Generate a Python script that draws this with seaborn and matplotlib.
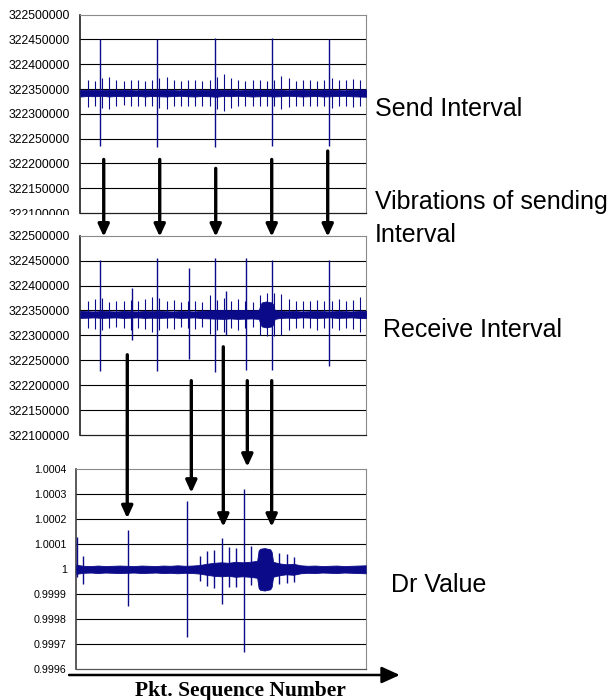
import numpy as np
import pandas as pd
import seaborn as sns
import matplotlib.pyplot as plt
from matplotlib.patches import ConnectionPatch
from matplotlib.transforms import Bbox

# x = packet sequence number, each panel spans 0..2000
# interval values below are in thousands of units (x1000 when drawn)

# ---- Send Interval panel ----
send_ticks = [322100, 322150, 322200, 322250, 322300, 322350, 322400, 322450, 322500]
send_center = 322342
send_band_x = [0, 50, 100, 150, 200, 250, 300, 350, 400, 450, 500, 550, 600, 650,
               700, 750, 800, 850, 900, 950, 1000, 1050, 1100, 1150, 1200, 1250,
               1300, 1350, 1400, 1450, 1500, 1550, 1600, 1650, 1700, 1750, 1800,
               1850, 1900, 1950, 2000]
send_band_half = [7, 6, 6.5, 5.5, 7, 6, 6.5, 6, 5.5, 7, 6, 6.5, 7, 6, 5.5, 6.5, 7,
                  6, 6.5, 7.5, 6, 6.5, 5.5, 6, 7, 6.5, 6, 7, 6.5, 5.5, 6, 7, 6.5,
                  6, 7, 6.5, 6, 5.5, 6.5, 7, 7.5]
small_spike_x = [52, 102, 152, 203, 253, 303, 353, 403, 454, 504, 554, 604, 654,
                 705, 755, 805, 855, 905, 956, 1006, 1056, 1106, 1156, 1207, 1257,
                 1307, 1357, 1407, 1458, 1508, 1558, 1608, 1658, 1709, 1759, 1809,
                 1859, 1909, 1960]
send_small_top = [322368, 322366, 322372, 322374, 322368, 322367, 322369, 322368, 322367,
                  322368, 322372, 322375, 322368, 322367, 322369, 322368, 322367, 322368,
                  322374, 322381, 322372, 322368, 322367, 322369, 322368, 322367, 322368,
                  322376, 322372, 322367, 322368, 322369, 322367, 322368, 322372, 322369,
                  322368, 322370, 322368]
send_small_bot = [322314, 322316, 322312, 322310, 322316, 322317, 322315, 322316, 322316,
                  322315, 322311, 322309, 322316, 322316, 322315, 322316, 322316, 322315,
                  322310, 322305, 322312, 322316, 322316, 322315, 322316, 322316, 322315,
                  322309, 322313, 322316, 322315, 322316, 322316, 322315, 322312, 322315,
                  322316, 322314, 322316]
big_spike_x = [140, 537, 941, 1340, 1739]
send_big_top = [322450, 322450, 322452, 322452, 322450]
send_big_bot = [322235, 322234, 322233, 322235, 322236]

# ---- Receive Interval panel ----
recv_center = 322342
recv_band_x = [0, 50, 100, 150, 200, 250, 300, 350, 400, 450, 500, 550, 600, 650,
               700, 750, 800, 850, 900, 950, 1000, 1050, 1100, 1150, 1200, 1250,
               1260, 1270, 1300, 1340, 1350, 1360,
               1400, 1450, 1500, 1550, 1600, 1650, 1700, 1750, 1800, 1850, 1900, 1950, 2000]
recv_band_half = [7, 6.5, 6, 7, 6.5, 6, 7, 6.5, 6, 7, 6.5, 7, 6.5, 6, 7, 6.5, 6,
                  7.5, 8, 8.5, 9, 8, 9, 8.5, 8, 9,
                  18, 24, 26, 24, 20, 9,
                  7, 6.5, 7, 6, 6.5, 7, 6.5, 6, 7, 6.5, 6, 7, 7.5]
recv_small_top = [322368, 322372, 322374, 322366, 322368, 322368, 322371, 322368, 322372,
                  322377, 322374, 322368, 322371, 322367, 322369, 322368, 322366, 322380,
                  322370, 322374, 322369, 322372, 322368, 322367, 322380, 322386, 322386,
                  322382, 322372, 322368, 322369, 322368, 322371, 322368, 322368, 322372,
                  322369, 322370, 322377]
recv_small_bot = [322314, 322312, 322310, 322314, 322316, 322315, 322310, 322315, 322313,
                  322306, 322310, 322315, 322312, 322316, 322315, 322313, 322316, 322303,
                  322311, 322306, 322314, 322310, 322315, 322316, 322300, 322298, 322299,
                  322301, 322310, 322315, 322314, 322315, 322310, 322315, 322314, 322311,
                  322314, 322313, 322307]
recv_big_x = [140, 537, 941, 1340, 1739, 362, 763, 1018, 1162]
recv_big_top = [322452, 322455, 322455, 322452, 322452, 322395, 322435, 322390, 322455]
recv_big_bot = [322228, 322228, 322226, 322230, 322238, 322290, 322253, 322300, 322230]

# ---- Dr Value panel ----
dr_ticks = [0.9996, 0.9997, 0.9998, 0.9999, 1.0, 1.0001, 1.0002, 1.0003, 1.0004]
dr_tick_labels = ["0.9996", "0.9997", "0.9998", "0.9999", "1",
                  "1.0001", "1.0002", "1.0003", "1.0004"]
dr_center = 1.0
dr_band_x = recv_band_x
# half width of the Dr band, in units of 1e-6
dr_band_half_u = [18, 14, 13, 15, 13, 14, 15, 14, 13, 15, 14, 13, 15, 14, 16, 14, 15,
                  17, 22, 26, 28, 26, 30, 28, 30, 34,
                  75, 82, 85, 80, 70, 30,
                  24, 20, 22, 16, 14, 15, 13, 14, 15, 13, 14, 15, 16]
dr_spike_x = [4, 48, 355, 763, 1009, 1161, 855, 906, 954, 1053, 1104, 1205, 1403, 1456, 1504]
dr_spike_top = [1.00013, 1.000055, 1.000157, 1.000273, 1.000126, 1.00032, 1.000052,
                1.000073, 1.000077, 1.000088, 1.000085, 1.000093, 1.000067, 1.00006, 1.00005]
dr_spike_bot = [0.99997, 0.99994, 0.999854, 0.99973, 0.99986, 0.99967, 0.999954,
                0.999933, 0.999924, 0.99993, 0.999928, 0.999936, 0.999941, 0.999944, 0.99995]

# ---- arrows between panels ----
arrow1_x = [164, 556, 948, 1340, 1732]
arrow1_from = [322208, 322208, 322190, 322208, 322225]
arrow1_to = 322498
arrow2_x_recv = [329, 777, 1001, 1169, 1340]
arrow2_x_dr = [352, 795, 1016, 1182, 1350]
arrow2_from = [322261, 322209, 322277, 322209, 322209]
arrow2_to = [1.000204, 1.000306, 1.00017, 1.00041, 1.00017]

BLUE = "#0b0b8a"
W, H = 613, 700

sns.set_theme(style="white")
plt.rcParams["font.family"] = ["Liberation Sans", "DejaVu Sans"]
plt.rcParams["text.color"] = "black"

fig = plt.figure(figsize=(W / 100, H / 100), dpi=100)


def px_axes(left, top, right, bottom):
    return fig.add_axes([left / W, 1 - bottom / H, (right - left) / W, (bottom - top) / H])


def style_axes(ax, ticks, labels, size, pad):
    ax.set_xlim(0, 2000)
    ax.set_ylim(ticks[0], ticks[-1])
    ax.set_xticks([])
    ax.set_yticks(ticks)
    ax.set_yticklabels(labels)
    ax.tick_params(axis="y", length=0, pad=pad, labelsize=size, labelcolor="black")
    for t in ticks[1:-1]:
        ax.axhline(t, color="black", lw=0.8, zorder=1)
    for side in ["top", "right"]:
        ax.spines[side].set_color("#8a8a8a")
        ax.spines[side].set_linewidth(0.8)
    ax.spines["left"].set_color("#202020")
    ax.spines["left"].set_linewidth(1.2)
    ax.spines["bottom"].set_color("#202020")
    ax.spines["bottom"].set_linewidth(0.9)


def draw_trace(ax, band_x, center, half, sx, stop, sbot, scale, lw=0.8):
    c = np.full(len(band_x), center) * scale
    h = np.asarray(half) * scale
    ax.fill_between(band_x, c - h, c + h, color=BLUE, lw=0.6, edgecolor=BLUE, zorder=3)
    sns.lineplot(x=band_x, y=c, ax=ax, color=BLUE, lw=0.8, zorder=3)
    ax.vlines(sx, np.asarray(sbot) * scale, np.asarray(stop) * scale,
              color=BLUE, lw=lw, zorder=3)


k = 1000

# panel 1: send interval
ax1 = px_axes(80.3, 14.7, 366, 213)
style_axes(ax1, [t * k for t in send_ticks], [str(t * k) for t in send_ticks], 8.8, 7.2)
draw_trace(ax1, send_band_x, send_center, send_band_half,
           small_spike_x, send_small_top, send_small_bot, k)
ax1.vlines(big_spike_x, np.array(send_big_bot) * k, np.array(send_big_top) * k,
           color=BLUE, lw=1.0, zorder=3)
# bottom tick label is partly hidden behind the next panel in the original
lbl = ax1.get_yticklabels()[0]
lbl.set_clip_on(True)
lbl.set_clip_box(Bbox([[0, H - 214.5], [W, H]]))

# panel 2: receive interval
ax2 = px_axes(80.3, 235.7, 366, 435)
style_axes(ax2, [t * k for t in send_ticks], [str(t * k) for t in send_ticks], 8.8, 7.2)
draw_trace(ax2, recv_band_x, recv_center, recv_band_half,
           small_spike_x, recv_small_top, recv_small_bot, k)
ax2.vlines(recv_big_x, np.array(recv_big_bot) * k, np.array(recv_big_top) * k,
           color=BLUE, lw=1.0, zorder=3)

# panel 3: Dr value
ax3 = px_axes(76.3, 469.3, 365.7, 669.3)
style_axes(ax3, dr_ticks, dr_tick_labels, 7.7, 6.9)
ax3.spines["bottom"].set_color("#555555")
ax3.spines["left"].set_color("#404040")
draw_trace(ax3, dr_band_x, dr_center, np.array(dr_band_half_u) * 1e-6,
           dr_spike_x, dr_spike_top, dr_spike_bot, 1.0, lw=1.0)

# vertical arrows linking the panels
arrow_style = "-|>,head_length=0.72,head_width=0.33"
for x, y0 in zip(arrow1_x, arrow1_from):
    con = ConnectionPatch(xyA=(x, y0 * k), coordsA=ax1.transData,
                          xyB=(x, arrow1_to * k), coordsB=ax2.transData,
                          arrowstyle=arrow_style, lw=2.4, color="black",
                          shrinkA=0, shrinkB=0, mutation_scale=10)
    fig.add_artist(con)
for xa, xb, y0, y1 in zip(arrow2_x_recv, arrow2_x_dr, arrow2_from, arrow2_to):
    con = ConnectionPatch(xyA=(xa, y0 * k), coordsA=ax2.transData,
                          xyB=(xb, y1), coordsB=ax3.transData,
                          arrowstyle=arrow_style, lw=2.4, color="black",
                          shrinkA=0, shrinkB=0, mutation_scale=10)
    fig.add_artist(con)

# x axis arrow under the Dr panel
ax3.annotate("", xy=(1.118, -0.0285), xytext=(-0.025, -0.0285),
             xycoords="axes fraction", annotation_clip=False,
             arrowprops=dict(arrowstyle="-|>,head_length=1.1,head_width=0.5",
                             lw=1.8, color="black", shrinkA=0, shrinkB=0,
                             mutation_scale=10))

# side labels
fig.text(375 / W, 1 - 115.7 / H, "Send Interval", fontsize=18, va="baseline")
fig.text(375 / W, 1 - 209.3 / H, "Vibrations of sending", fontsize=18, va="baseline")
fig.text(375 / W, 1 - 241.7 / H, "Interval", fontsize=18, va="baseline")
fig.text(382.7 / W, 1 - 336.7 / H, "Receive Interval", fontsize=18, va="baseline")
fig.text(390.7 / W, 1 - 592.3 / H, "Dr Value", fontsize=18, va="baseline")
fig.text(240 / W, 1 - 696 / H, "Pkt. Sequence Number", fontsize=15.5, fontweight="bold",
         family=["Liberation Serif", "DejaVu Serif"], ha="center", va="baseline")

fig.savefig("out.png", dpi=100)
